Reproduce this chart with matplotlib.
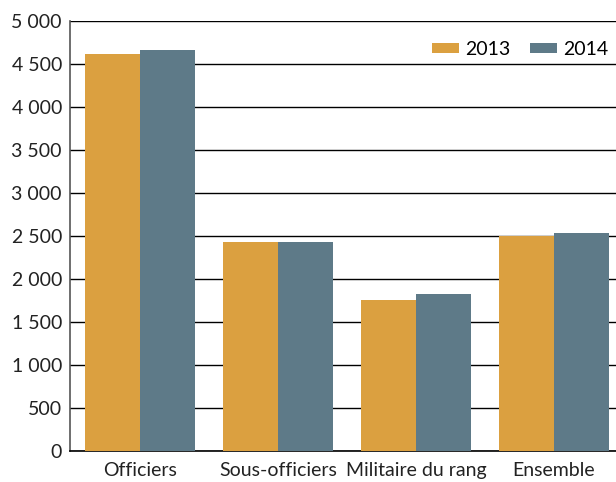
import numpy as np
import matplotlib
matplotlib.use("Agg")
import matplotlib.pyplot as plt
from matplotlib.ticker import FuncFormatter

plt.rcParams["font.family"] = ["Lato", "DejaVu Sans"]

# data
categories = ["Officiers", "Sous-officiers", "Militaire du rang", "Ensemble"]
years = ["2013", "2014"]
vals_2013 = [4620, 2430, 1760, 2500]
vals_2014 = [4660, 2430, 1830, 2540]
colors = ["#dba040", "#5e7a88"]

fig = plt.figure(figsize=(6.16, 4.82), dpi=100)
ax = fig.add_axes([0.114, 0.064, 0.886, 0.892])

x = np.arange(len(categories))
w = 0.4
ax.bar(x - w/2, vals_2013, w, color=colors[0], label=years[0], zorder=3)
ax.bar(x + w/2, vals_2014, w, color=colors[1], label=years[1], zorder=3)

ax.set_ylim(0, 5000)
ax.set_xlim(-0.507, 3.45)
ax.set_yticks(np.arange(0, 5001, 500))
ax.yaxis.set_major_formatter(FuncFormatter(lambda v, p: f"{int(v):,}".replace(",", " ")))
ax.set_xticks(x)
ax.set_xticklabels(categories)
ax.grid(axis="y", color="black", linewidth=1.0, zorder=0)
ax.tick_params(axis="both", length=0, labelsize=14, colors="#222222")
ax.tick_params(axis="x", pad=8)
ax.tick_params(axis="y", pad=6)

for s in ["top", "right"]:
    ax.spines[s].set_visible(False)
ax.spines["left"].set_color("#555555")
ax.spines["left"].set_linewidth(1.2)
ax.spines["bottom"].set_color("black")
ax.spines["bottom"].set_linewidth(1.2)

ax.legend(loc="center right", bbox_to_anchor=(0.985, 0.935), ncol=2, frameon=False,
          fontsize=14, handlelength=1.4, handleheight=0.45, columnspacing=1.0,
          handletextpad=0.3, borderpad=0, borderaxespad=0)

fig.savefig("out.png", dpi=100)
